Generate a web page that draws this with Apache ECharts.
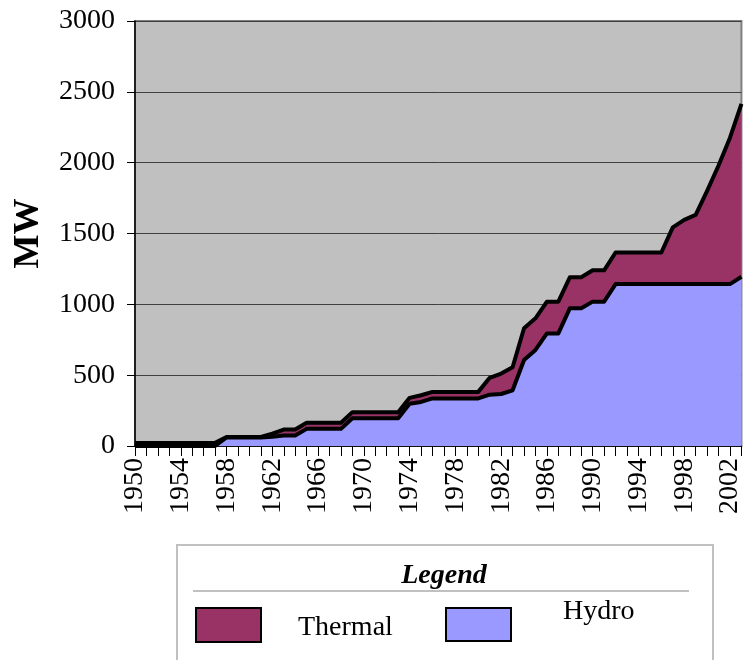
<!DOCTYPE html>
<html>
<head>
<meta charset="utf-8">
<script src="https://cdn.jsdelivr.net/npm/echarts@6/dist/echarts.min.js"></script>
<style>
html,body{margin:0;padding:0;background:#fff;}
#chart{width:744px;height:660px;}
</style>
</head>
<body>
<div id="chart"></div>
<script>
const years = ['1950','1951','1952','1953','1954','1955','1956','1957','1958','1959',
  '1960','1961','1962','1963','1964','1965','1966','1967','1968','1969',
  '1970','1971','1972','1973','1974','1975','1976','1977','1978','1979',
  '1980','1981','1982','1983','1984','1985','1986','1987','1988','1989',
  '1990','1991','1992','1993','1994','1995','1996','1997','1998','1999',
  '2000','2001','2002','2003'];
const hydro = [0,0,0,0,0,0,0,0,60,60,
  60,60,65,74,74,121,121,121,121,196,
  196,196,196,196,298,311,336,336,336,336,
  336,362,367,393,607,678,795,795,972,972,
  1019,1019,1143,1143,1143,1143,1143,1143,1143,1143,
  1143,1143,1143,1195];
const thermal = [22,22,22,22,22,22,22,22,4,4,
  4,4,22,42,42,43,43,43,43,43,
  43,43,43,43,42,47,46,46,46,46,
  46,119,144,163,224,223,224,224,219,219,
  221,221,223,223,223,223,223,400,453,488,
  658,837,1033,1220];
const seriesNames = ['Thermal','Hydro'];
const yAxisTitle = 'MW';
const legendTitle = 'Legend';

const FONT = "'Liberation Serif','Times New Roman',serif";
const chart = echarts.init(document.getElementById('chart'));
chart.setOption({
  animation: false,
  backgroundColor: '#ffffff',
  grid: {left: 135, right: 1, top: 21, bottom: 214, show: true,
    backgroundColor: '#C0C0C0', borderColor: '#808080', borderWidth: 2},
  xAxis: {
    type: 'category', boundaryGap: false, data: years,
    axisLine: {show: true, lineStyle: {color: '#000', width: 1.5}},
    axisTick: {show: true, interval: 0, length: 10, lineStyle: {color: '#000', width: 1}},
    axisLabel: {interval: 3, rotate: 90, margin: 12, fontSize: 28, fontFamily: FONT, color: '#000',
      hideOverlap: false},
    splitLine: {show: false}
  },
  yAxis: {
    type: 'value', min: 0, max: 3000, interval: 500,
    name: yAxisTitle, nameLocation: 'middle', nameRotate: 90, nameGap: 88,
    nameTextStyle: {fontSize: 36, fontWeight: 'bold', fontFamily: FONT, color: '#000'},
    axisLine: {show: true, lineStyle: {color: '#000', width: 1.5}},
    axisTick: {show: true, length: 8, lineStyle: {color: '#000', width: 1}},
    axisLabel: {margin: 20, fontSize: 28, fontFamily: FONT, color: '#000',
      formatter: function (v) { return String(v); }},
    splitLine: {show: true, lineStyle: {color: '#404040', width: 1}}
  },
  series: [
    {name: seriesNames[1], type: 'line', stack: 'total', data: hydro, symbol: 'none', z: 3,
     lineStyle: {color: '#000', width: 4, join: 'round'}, itemStyle: {color: '#9999FF'},
     areaStyle: {color: '#9999FF', opacity: 1}},
    {name: seriesNames[0], type: 'line', stack: 'total', data: thermal, symbol: 'none', z: 2,
     lineStyle: {color: '#000', width: 4, join: 'round'}, itemStyle: {color: '#993366'},
     areaStyle: {color: '#993366', opacity: 1}}
  ],
  graphic: [
    {type: 'rect', shape: {x: 177, y: 545, width: 536, height: 130}, style: {fill: '#fff', stroke: '#C0C0C0', lineWidth: 2}, z: 10},
    {type: 'text', x: 444, y: 576, style: {text: legendTitle, fontSize: 28, fontWeight: 'bold', fontStyle: 'italic', fontFamily: FONT, fill: '#000', align: 'center', verticalAlign: 'middle'}, z: 11},
    {type: 'line', shape: {x1: 193, y1: 591, x2: 689, y2: 591}, style: {stroke: '#C0C0C0', lineWidth: 2}, z: 11},
    {type: 'rect', shape: {x: 196, y: 608, width: 65, height: 34}, style: {fill: '#993366', stroke: '#000', lineWidth: 2}, z: 11},
    {type: 'text', x: 298, y: 628, style: {text: seriesNames[0], fontSize: 28, fontFamily: FONT, fill: '#000', align: 'left', verticalAlign: 'middle'}, z: 11},
    {type: 'rect', shape: {x: 446, y: 608, width: 65, height: 33}, style: {fill: '#9999FF', stroke: '#000', lineWidth: 2}, z: 11},
    {type: 'text', x: 563, y: 612, style: {text: seriesNames[1], fontSize: 28, fontFamily: FONT, fill: '#000', align: 'left', verticalAlign: 'middle'}, z: 11}
  ]
});
</script>
</body>
</html>
